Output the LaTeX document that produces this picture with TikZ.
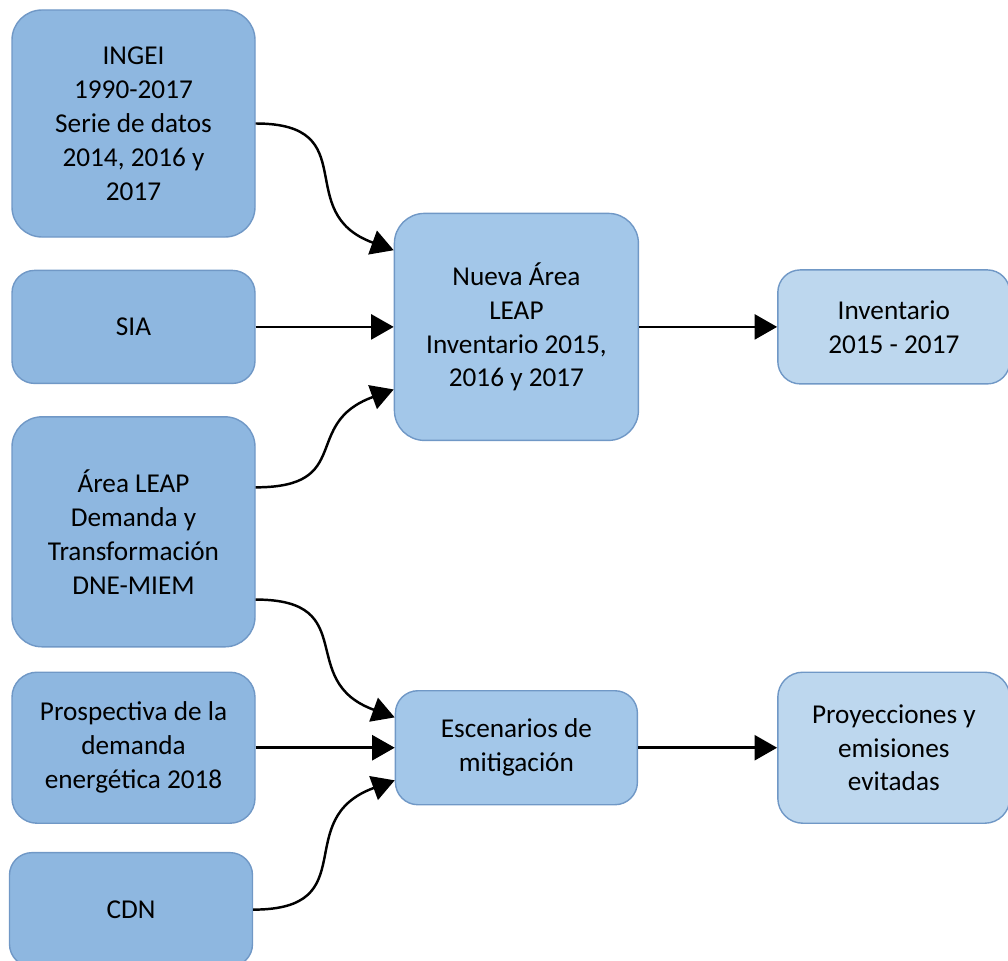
\documentclass[tikz,border=0pt]{standalone}
\usepackage{fontspec}
\setmainfont{Carlito}
\usetikzlibrary{arrows.meta, positioning}
\definecolor{colIn}{RGB}{142,183,224}
\definecolor{colMid}{RGB}{163,199,233}
\definecolor{colOut}{RGB}{189,215,238}
\definecolor{colBorder}{RGB}{112,152,198}

\begin{document}
\begin{tikzpicture}[
        font=\fontsize{15.5}{19.3}\selectfont,
        box/.style={rectangle, rounded corners=0.6cm, minimum width=4.86cm, text centered, draw=colBorder, line width=0.8pt, align=center},
        inbox/.style={box, fill=colIn},
        midbox/.style={box, fill=colMid},
        outbox/.style={box, fill=colOut, minimum width=4.64cm},
        arrow/.style={-{Triangle[length=0.45cm, width=0.5cm]}, line width=1.4pt}
    ]
    \useasboundingbox (0,0) rectangle (20.16,-19.2);

    %% -- Columna 1 : fuentes de datos --
    \node[inbox, minimum height=4.54cm] (ingei) at (2.67,-2.47) {INGEI\\1990-2017\\Serie de datos\\2014, 2016 y\\2017};
    \node[inbox, minimum height=2.26cm, rounded corners=0.45cm, below=0.64cm of ingei] (sia) {SIA};
    \node[inbox, minimum height=4.6cm, below=0.64cm of sia] (area_leap) {Área LEAP\\Demanda y\\Transformación\\DNE-MIEM};
    \node[inbox, minimum height=3.02cm, rounded corners=0.5cm, below=0.48cm of area_leap] (prosp) {Prospectiva de la\\demanda\\energética 2018};
    \node[inbox, minimum height=2.28cm, rounded corners=0.45cm, below=0.56cm of prosp, xshift=-0.05cm] (cdn) {CDN};

    %% -- Columna 2 : LEAP --
    \node[midbox, minimum width=4.88cm, minimum height=4.54cm, right=2.76cm of sia] (nueva_area) {Nueva Área\\LEAP\\Inventario 2015,\\2016 y 2017};
    \node[midbox, minimum width=4.84cm, minimum height=2.28cm, rounded corners=0.45cm] (escenarios) at (nueva_area |- prosp) {Escenarios de\\mitigación};

    %% -- Columna 3 : resultados --
    \node[outbox, minimum height=2.28cm, rounded corners=0.45cm, right=2.76cm of nueva_area] (inventario) {Inventario\\2015 - 2017};
    \node[outbox, minimum height=3.02cm, rounded corners=0.5cm] (proyecciones) at (inventario |- prosp) {Proyecciones y\\emisiones\\evitadas};

    % Flechas hacia la nueva área
    \draw[arrow] (ingei.east) to[out=0, in=160, looseness=1.5] (nueva_area.148);
    \draw[arrow] (sia) -- (nueva_area);
    \draw[arrow] (area_leap.20) to[out=0, in=200, looseness=1.5] (nueva_area.207);
    \draw[arrow] (nueva_area) -- (inventario);

    % Flechas hacia los escenarios
    \draw[arrow] (area_leap.331) to[out=0, in=160, looseness=1.5] (escenarios.166);
    \draw[arrow] (prosp) -- (escenarios);
    \draw[arrow] (cdn.east) to[out=0, in=200, looseness=1.5] (escenarios.195);
    \draw[arrow] (escenarios) -- (proyecciones);

\end{tikzpicture}
\end{document}
